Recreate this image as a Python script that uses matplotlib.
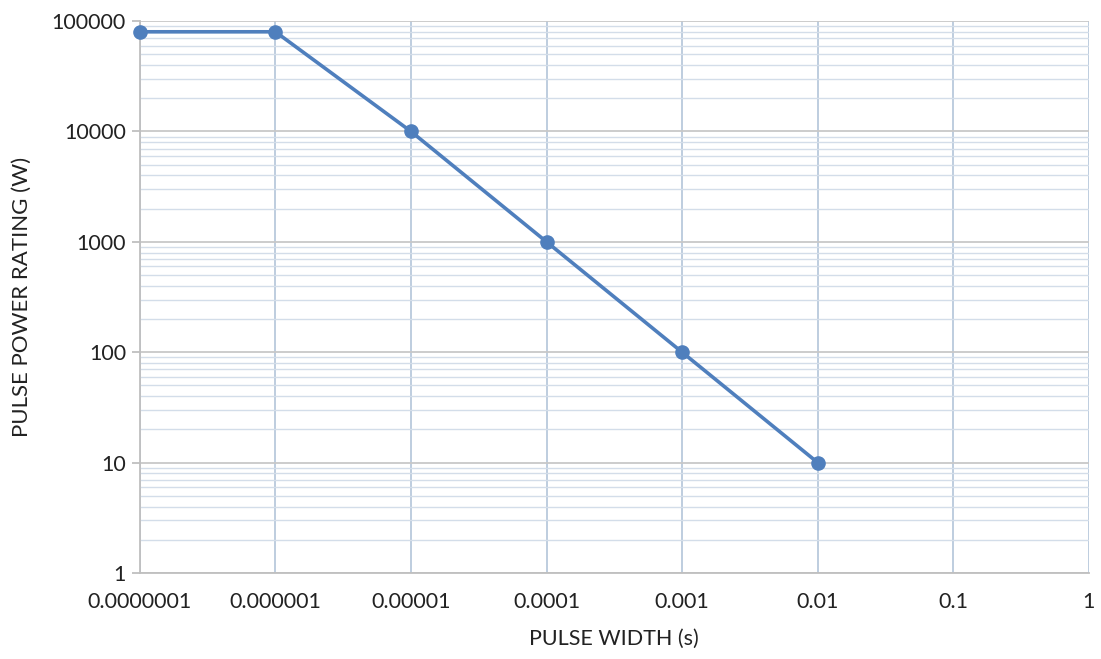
import matplotlib
matplotlib.use("Agg")
import matplotlib.pyplot as plt
from matplotlib.ticker import LogLocator, FixedLocator, NullFormatter

plt.rcParams['font.family'] = ['Lato', 'DejaVu Sans']

pulse_width = [1e-7, 1e-6, 1e-5, 1e-4, 1e-3, 1e-2]
pulse_power = [80000, 80000, 10000, 1000, 100, 10]

x_ticks = [1e-7, 1e-6, 1e-5, 1e-4, 1e-3, 1e-2, 1e-1, 1]
x_labels = ['0.0000001', '0.000001', '0.00001', '0.0001', '0.001', '0.01', '0.1', '1']
y_ticks = [1, 10, 100, 1000, 10000, 100000]
y_labels = ['1', '10', '100', '1000', '10000', '100000']

fig = plt.figure(figsize=(11.01, 6.59), dpi=100)
ax = fig.add_axes([0.127, 0.1305, 0.862, 0.8375])

ax.set_xscale('log')
ax.set_yscale('log')
ax.set_xlim(1e-7, 1)
ax.set_ylim(1, 100000)

ax.yaxis.set_minor_locator(LogLocator(base=10, subs=range(2, 10)))
ax.yaxis.set_minor_formatter(NullFormatter())
ax.xaxis.set_major_locator(FixedLocator(x_ticks))
ax.set_xticklabels(x_labels)
ax.xaxis.set_minor_locator(FixedLocator([]))
ax.yaxis.set_major_locator(FixedLocator(y_ticks))
ax.set_yticklabels(y_labels)

ax.grid(True, which='major', axis='x', color='#b9c9dc', linewidth=1.3)
ax.grid(True, which='major', axis='y', color='#c8c8c8', linewidth=1.3)
ax.grid(True, which='minor', axis='y', color='#d3dde9', linewidth=1.0)
ax.set_axisbelow(True)

ax.plot(pulse_width, pulse_power, color='#4f7fbd', linewidth=2.6,
        marker='o', markersize=9.5, clip_on=False, zorder=3)

for side in ['top', 'right']:
    ax.spines[side].set_visible(False)
for side in ['left', 'bottom']:
    ax.spines[side].set_color('#bfbfbf')
    ax.spines[side].set_linewidth(1.3)

ax.tick_params(axis='y', which='major', length=6, color='#bfbfbf', width=1.3,
               labelsize=15.5, labelcolor='#222222', pad=4)
ax.tick_params(axis='y', which='minor', length=0)
ax.tick_params(axis='x', which='major', length=0, labelsize=15.5,
               labelcolor='#222222', pad=14)

ax.set_xlabel('PULSE WIDTH (s)', fontsize=15.5, color='#222222', labelpad=12)
ax.set_ylabel('PULSE POWER RATING (W)', fontsize=16, color='#222222', labelpad=14)

fig.savefig('out.png', dpi=100)
